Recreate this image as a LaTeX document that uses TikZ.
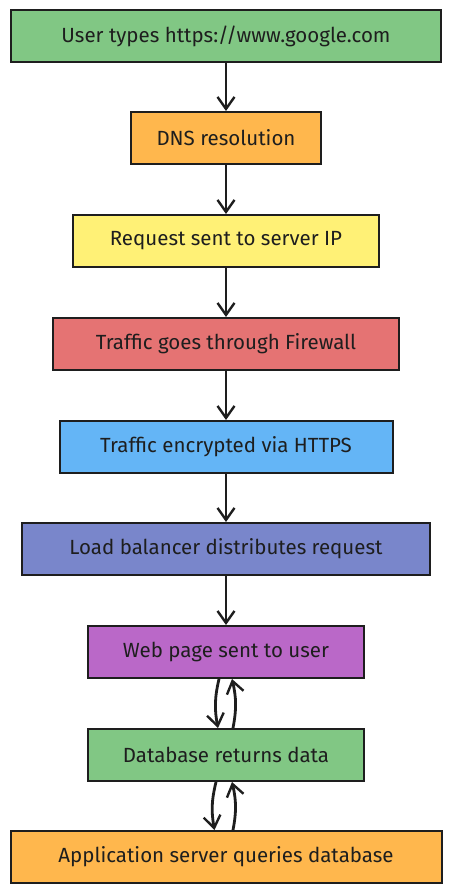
\documentclass[tikz,border=0pt]{standalone}
\usepackage{fontspec}
\setmainfont{Fira Sans}
\usetikzlibrary{arrows.meta}
\definecolor{cgreen}{HTML}{81C784}
\definecolor{corange}{HTML}{FFB74D}
\definecolor{cyellow}{HTML}{FFF176}
\definecolor{cred}{HTML}{E57373}
\definecolor{cblue}{HTML}{64B5F6}
\definecolor{cindigo}{HTML}{7986CB}
\definecolor{cpurple}{HTML}{BA68C8}
\definecolor{ink}{HTML}{1E1E1E}
\tikzset{
  stepbox/.style={draw=ink, line width=2pt, minimum height=52pt, inner sep=0pt,
    font=\fontsize{20.5}{24}\selectfont, text=ink},
  flow/.style={draw=ink, line width=2.8pt, -{Straight Barb[length=12pt,width=17pt,line width=2.4pt]}}
}
\begin{document}
\begin{tikzpicture}[x=1pt,y=-1pt]
\useasboundingbox (0,0) rectangle (452,893);
\node[stepbox, fill=cgreen, minimum width=430pt] (n1) at (226,36) {User types https://www.google.com};
\node[stepbox, fill=corange, minimum width=190pt] (n2) at (226,138) {DNS resolution};
\node[stepbox, fill=cyellow, minimum width=306pt] (n3) at (226,241) {Request sent to server IP};
\node[stepbox, fill=cred, minimum width=346pt] (n4) at (226,344) {Traffic goes through Firewall};
\node[stepbox, fill=cblue, minimum width=333pt] (n5) at (226,447) {Traffic encrypted via HTTPS};
\node[stepbox, fill=cindigo, minimum width=408pt] (n6) at (226,549) {Load balancer distributes request};
\node[stepbox, fill=cpurple, minimum width=276pt] (n7) at (226,652) {Web page sent to user};
\node[stepbox, fill=cgreen, minimum width=276pt] (n8) at (226,755) {Database returns data};
\node[stepbox, fill=corange, minimum width=431pt] (n9) at (226,857) {Application server queries database};
\draw[flow] (n1.south) -- (n2.north);
\draw[flow] (n2.south) -- (n3.north);
\draw[flow] (n3.south) -- (n4.north);
\draw[flow] (n4.south) -- (n5.north);
\draw[flow] (n5.south) -- (n6.north);
\draw[flow] (n6.south) -- (n7.north);
\draw[flow] ([xshift=-7pt]n7.south) to[bend right=12] ([xshift=-8pt]n8.north);
\draw[flow] ([xshift=7pt]n8.north) to[bend right=12] ([xshift=6pt]n7.south);
\draw[flow] ([xshift=-10pt]n8.south) to[bend right=12] ([xshift=-11.5pt]n9.north);
\draw[flow] ([xshift=7pt]n9.north) to[bend right=12] ([xshift=6pt]n8.south);
\end{tikzpicture}
\end{document}
